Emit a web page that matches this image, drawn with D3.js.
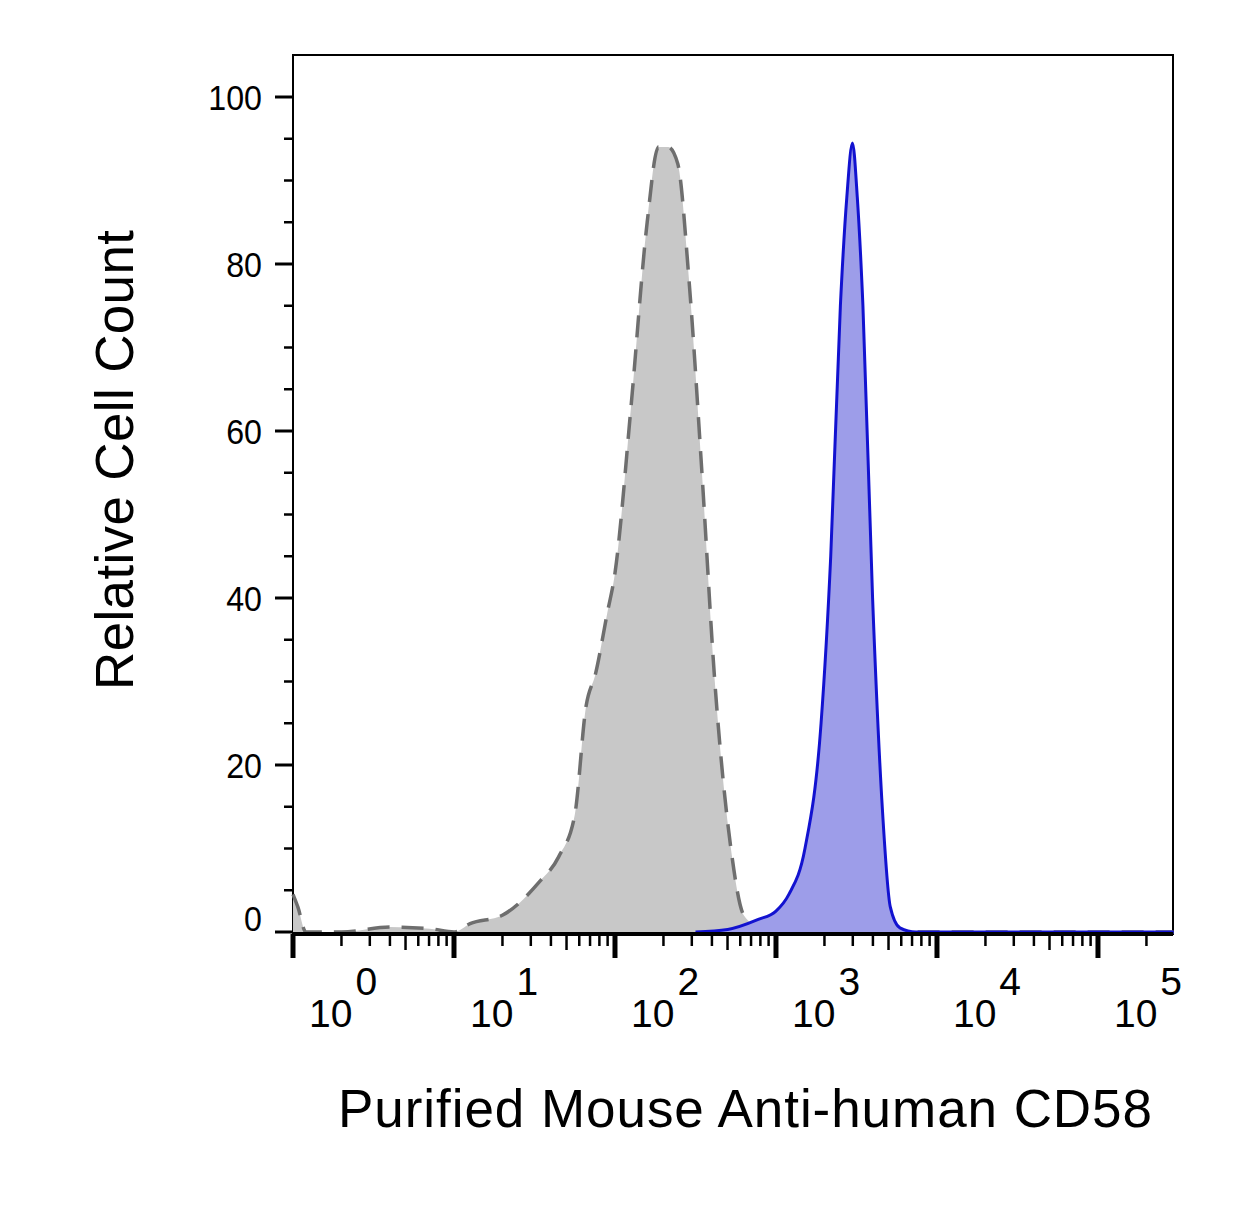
<!DOCTYPE html>
<html><head><meta charset="utf-8">
<script src="https://cdn.jsdelivr.net/npm/d3@7"></script>
<style>body{margin:0;background:#fff}</style>
</head><body>
<svg id="chart" width="1244" height="1226"></svg>
<script>
// log10 intensity vs relative count (%)
var isoX = [0.0, 0.03, 0.08, 0.3, 0.6, 0.85, 1.0, 1.1, 1.3, 1.53, 1.65, 1.75, 1.82, 1.88, 1.95, 2.0, 2.1, 2.2, 2.27, 2.33, 2.39, 2.46, 2.54, 2.62, 2.72, 2.8, 2.9, 3.0, 3.5, 5.47];
var isoY = [4.5, 3, 0, 0, 0.6, 0.4, 0, 1, 2, 6, 9, 14, 27, 31, 38, 43, 63, 85, 94, 94, 92, 78, 55, 30, 10, 2, 0.5, 0, 0, 0];
var cdX = [2.5, 2.7, 2.89, 3.0, 3.08, 3.18, 3.28, 3.34, 3.4, 3.44, 3.475, 3.505, 3.54, 3.6, 3.66, 3.71, 3.77, 3.87, 5.47];
var cdY = [0, 0.3, 1.5, 2.5, 4.5, 10, 25, 45, 75, 88, 94.5, 88, 75, 40, 15, 3, 0.5, 0, 0];
var yTicks = [0, 20, 40, 60, 80, 100];
var decades = [0, 1, 2, 3, 4, 5];

var svg = d3.select('#chart');
var L = 293, R = 1173, T = 55, B = 934;
var font = 'Liberation Sans, Arial';
var x = d3.scaleLinear().domain([0, 5.466]).range([L, R]);
var y = d3.scaleLinear().domain([0, 100]).range([932, 97]);

function pts(xs, ys){ return xs.map(function(v,i){return [v, ys[i]];}); }
var area = d3.area().x(function(d){return x(d[0]);}).y0(y(0)).y1(function(d){return y(d[1]);}).curve(d3.curveMonotoneX);
var line = d3.line().x(function(d){return x(d[0]);}).y(function(d){return y(d[1]);}).curve(d3.curveMonotoneX);

svg.append('rect').attr('x', L).attr('y', T).attr('width', R-L).attr('height', B-T)
  .attr('fill', 'none').attr('stroke', '#000').attr('stroke-width', 2);

var iso = pts(isoX, isoY), cd = pts(cdX, cdY);
svg.append('path').datum(iso).attr('d', area).attr('fill', '#c8c8c8');
svg.append('path').datum(iso).attr('d', line).attr('fill', 'none')
  .attr('stroke', '#6e6e6e').attr('stroke-width', 3.5).attr('stroke-dasharray', '22,12');
svg.append('path').datum(cd).attr('d', area).attr('fill', '#9d9de9');
svg.append('path').datum(cd).attr('d', line).attr('fill', 'none')
  .attr('stroke', '#1212d0').attr('stroke-width', 3);

// y axis
var g = svg.append('g');
d3.range(0, 101, 5).forEach(function(v){
  var major = v % 20 === 0;
  g.append('line').attr('x1', L).attr('x2', L - (major ? 18 : 9))
    .attr('y1', y(v)).attr('y2', y(v)).attr('stroke', '#000').attr('stroke-width', major ? 3 : 2.5);
});
g.selectAll('text.yl').data(yTicks).enter().append('text')
  .attr('x', 262).attr('y', function(d){return y(d) + (d === 0 ? -1 : 13);})
  .attr('text-anchor', 'end').attr('font-family', font).attr('font-size', 35)
  .attr('transform', function(d){return 'translate(262,0) scale(0.92,1) translate(-262,0)';})
  .text(function(d){return d;});

// x axis
svg.append('line').attr('x1', L).attr('x2', R).attr('y1', B).attr('y2', B).attr('stroke', '#000').attr('stroke-width', 4);
decades.forEach(function(d){
  svg.append('line').attr('x1', x(d)).attr('x2', x(d)).attr('y1', B).attr('y2', B + 24)
    .attr('stroke', '#000').attr('stroke-width', 5);
  for (var k = 2; k <= 9; k++) {
    var v = d + Math.log10(k);
    if (v > 5.466) break;
    svg.append('line').attr('x1', x(v)).attr('x2', x(v)).attr('y1', B).attr('y2', B + (k === 5 ? 16 : 12))
      .attr('stroke', '#000').attr('stroke-width', 2.5);
  }
  var t = svg.append('text').attr('x', x(d) + 16).attr('y', 1027)
    .attr('font-family', font).attr('font-size', 39);
  t.append('tspan').text('10');
  t.append('tspan').attr('dx', 3).attr('dy', -32).text(d);
});

svg.append('text').attr('x', 745).attr('y', 1127).attr('text-anchor', 'middle')
  .attr('font-family', font).attr('font-size', 53).attr('textLength', 814)
  .text('Purified Mouse Anti-human CD58');
svg.append('text').attr('transform', 'translate(133,460) rotate(-90)').attr('text-anchor', 'middle')
  .attr('font-family', font).attr('font-size', 53).attr('textLength', 460)
  .text('Relative Cell Count');
</script>
</body></html>
